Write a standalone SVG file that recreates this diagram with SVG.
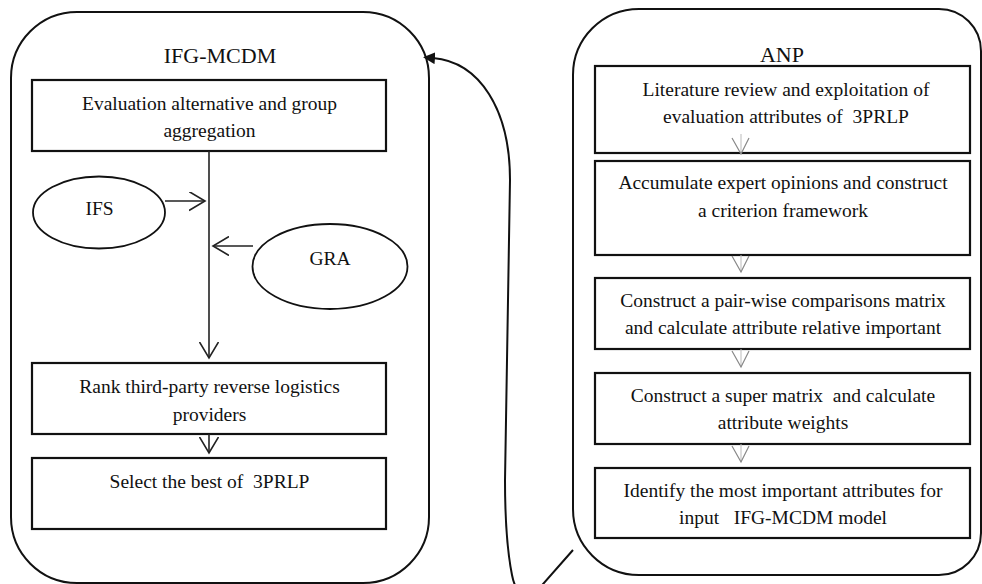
<svg xmlns="http://www.w3.org/2000/svg" width="982" height="584" viewBox="0 0 982 584">
  <style>
    .t { font-family: "Liberation Serif", "Times New Roman", serif; font-size: 19.5px; fill: #111; text-anchor: middle; white-space: pre; }
    .title { font-size: 22px; }
    .cont { fill: none; stroke: #111; stroke-width: 2; }
    .box { fill: #fff; stroke: #111; stroke-width: 2.2; }
    .ell { fill: #fff; stroke: #111; stroke-width: 1.8; }
    .ln { fill: none; stroke: #222; stroke-width: 1.6; }
    .gv { fill: none; stroke: #888; stroke-width: 1.2; }
    .gs { fill: none; stroke: #bbb; stroke-width: 1; }
    .big { fill: none; stroke: #111; stroke-width: 2; }
  </style>
  <defs>
    <marker id="open" markerUnits="userSpaceOnUse" markerWidth="18" markerHeight="20" refX="16" refY="9.5" orient="auto">
      <path d="M0,0 L16,9.5 L0,19" fill="none" stroke="#222" stroke-width="1.6"/>
    </marker>
    <marker id="solid" markerUnits="userSpaceOnUse" markerWidth="14" markerHeight="12" refX="2" refY="6" orient="auto">
      <path d="M0,0 L12,6 L0,12 Z" fill="#111"/>
    </marker>
  </defs>

  <!-- Left container -->
  <g id="ifg-mcdm">
    <rect class="cont" x="11" y="12" width="418" height="571" rx="66" ry="66"/>
    <text class="t title" x="220" y="63">IFG-MCDM</text>
  </g>

  <g id="eval">
    <rect class="box" x="32" y="80" width="354" height="71"/>
    <text class="t" x="209.5" y="110">Evaluation alternative and group</text>
    <text class="t" x="209.5" y="137">aggregation</text>
  </g>

  <g id="ifs">
    <ellipse class="ell" cx="99" cy="212.5" rx="66" ry="36"/>
    <text class="t" x="99.5" y="215">IFS</text>
  </g>

  <g id="gra">
    <ellipse class="ell" cx="330" cy="266.5" rx="77.5" ry="42.5"/>
    <text class="t" x="330" y="265">GRA</text>
  </g>

  <g id="rank">
    <rect class="box" x="32" y="363" width="354" height="71"/>
    <text class="t" x="209.5" y="393">Rank third-party reverse logistics</text>
    <text class="t" x="209.5" y="421">providers</text>
  </g>

  <g id="select">
    <rect class="box" x="32" y="458" width="354" height="71"/>
    <text class="t" x="209.5" y="488">Select the best of  3PRLP</text>
  </g>

  <!-- Right container -->
  <g id="anp">
    <path class="cont" d="M639 9 L939 9 A42 42 0 0 1 981 51 L981 533 A42 42 0 0 1 939 575 L639 575 A66 66 0 0 1 573 509 L573 75 A66 66 0 0 1 639 9 Z"/>
    <text class="t title" x="782" y="62">ANP</text>
  </g>

  <g id="lit">
    <rect class="box" x="595" y="66" width="375" height="87"/>
    <text class="t" x="786" y="96">Literature review and exploitation of</text>
    <text class="t" x="786" y="123">evaluation attributes of  3PRLP</text>
  </g>

  <g id="acc">
    <rect class="box" x="595" y="161" width="375" height="94"/>
    <text class="t" x="783" y="189">Accumulate expert opinions and construct</text>
    <text class="t" x="783" y="217">a criterion framework</text>
  </g>

  <g id="pair">
    <rect class="box" x="595" y="278" width="375" height="71"/>
    <text class="t" x="783" y="307">Construct a pair-wise comparisons matrix</text>
    <text class="t" x="783" y="334">and calculate attribute relative important</text>
  </g>

  <g id="super">
    <rect class="box" x="595" y="373" width="375" height="71"/>
    <text class="t" x="783" y="402">Construct a super matrix  and calculate</text>
    <text class="t" x="783" y="429">attribute weights</text>
  </g>

  <g id="identify">
    <rect class="box" x="595" y="468" width="375" height="70"/>
    <text class="t" x="783" y="497">Identify the most important attributes for</text>
    <text class="t" x="783" y="524">input   IFG-MCDM model</text>
  </g>

  <!-- Connectors -->
  <g id="connectors">
    <!-- left column -->
    <line class="ln" x1="209" y1="151" x2="209" y2="358" marker-end="url(#open)"/>
    <line class="ln" x1="165" y1="201" x2="205" y2="201" marker-end="url(#open)"/>
    <line class="ln" x1="253" y1="246" x2="213" y2="246" marker-end="url(#open)"/>
    <line class="ln" x1="209" y1="434" x2="209" y2="453" marker-end="url(#open)"/>

    <!-- right column gray arrows -->
    <line class="gs" x1="741" y1="134" x2="741" y2="154"/>
    <path class="gv" d="M732 138 L741 154 L749 138"/>
    <line class="gs" x1="741" y1="255" x2="741" y2="272"/>
    <path class="gv" d="M732 256 L741 272 L749 256"/>
    <line class="gs" x1="741" y1="349" x2="741" y2="367"/>
    <path class="gv" d="M732 351 L741 367 L749 351"/>
    <line class="gs" x1="741" y1="444" x2="741" y2="462"/>
    <path class="gv" d="M732 446 L741 462 L749 446"/>

    <!-- feedback connector ANP -> IFG-MCDM -->
    <path class="big" d="M573 550 L536 592 C528 600 516 596 512 575 C507 550 505 520 505 480 L510 180 C510 110 480 62 433 58" marker-end="url(#solid)"/>
  </g>
</svg>
